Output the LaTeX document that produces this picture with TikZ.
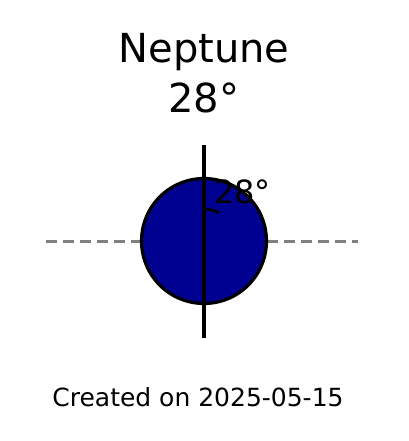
\documentclass[tikz,border=0pt]{standalone}
\usepackage{fontspec}
\setmainfont{DejaVu Sans}
\usetikzlibrary{positioning}

\tikzset{
  txt/.style={inner sep=0pt, anchor=base},
  tilt/.style={line width=2.8pt},
}

\begin{document}
\begin{tikzpicture}[x=1pt, y=-1pt]
  \useasboundingbox (0,0) rectangle (408,441);

  % Titel
  \node[txt, font=\fontsize{40}{48}\selectfont] (name) at (204,63) {Neptune};
  \node[txt, font=\fontsize{40}{48}\selectfont] (deg) at (204,112) {28°};

  % Horizont (gestrichelt)
  \coordinate (hl) at (46,241);
  \coordinate (hr) at (358,241);
  \draw[gray, line width=3pt, dash pattern=on 11pt off 6pt] (hl) -- (hr);

  % Planet
  \node[circle, draw, line width=3.2pt, fill={rgb,255:red,0;green,0;blue,145},
        minimum size=125pt, inner sep=0pt] (planet) at (204,241) {};

  % Achse
  \coordinate (axtop) at (204,145);
  \coordinate (axbot) at (204,338);
  \draw[line width=4.2pt] (axtop) -- (axbot);

  % Winkelbogen
  \draw[tilt] (planet.center) ++(270:32) arc[start angle=270, end angle=298, radius=32];
  \node[txt, anchor=base west, font=\fontsize{32}{38}\selectfont] (ang) at (214,203) {28°};

  % Datum
  \node[txt, font=\fontsize{25}{30}\selectfont] (date) at (198,406) {Created on 2025-05-15};
\end{tikzpicture}
\end{document}
